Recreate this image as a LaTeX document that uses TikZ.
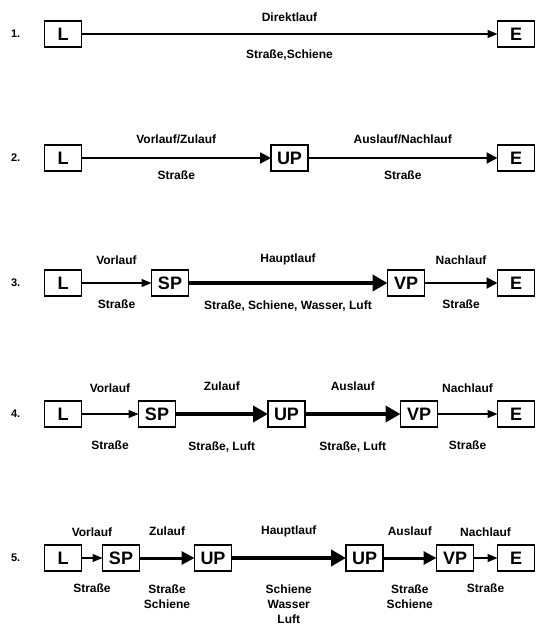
\documentclass[tikz,border=0pt]{standalone}
\usepackage{fontspec}
\setmainfont{Liberation Sans}
\usepackage{tikz}
\usetikzlibrary{arrows.meta, positioning}

\begin{document}
\begin{tikzpicture}[x=1pt, y=-1pt,
  box/.style={rectangle, draw=black, line width=1.3pt, fill=white,
    minimum width=37pt, minimum height=26pt, inner sep=0pt, outer sep=0pt,
    font=\fontsize{18}{20}\selectfont\bfseries},
  num/.style={inner sep=0pt, font=\fontsize{11}{13}\selectfont\bfseries},
  phase/.style={inner sep=0pt, text depth=0pt,
    font=\fontsize{12}{15}\selectfont\bfseries},
  carrier/.style={inner sep=0pt, align=center,
    font=\fontsize{12}{15}\selectfont\bfseries},
  arrA/.style={-{Triangle[length=10pt, width=8pt]}, line width=1.2pt},
  arrB/.style={-{Triangle[length=11pt, width=11pt]}, line width=2pt},
  arrC/.style={-{Triangle[length=13pt, width=13pt]}, line width=3pt},
  arrD/.style={-{Triangle[length=15pt, width=16pt]}, line width=4.5pt}
]
\useasboundingbox (0,0) rectangle (545,628);

\node[box] (l1) at (63,34) {L};
\node[box, right=416pt of l1] (e1) {E};
\node[num, left=24pt of l1] (n1) {1.};
\draw[arrA] (l1) -- node[phase, above=11.8pt] (p11) {Direktlauf}
  node[carrier, below=14.8pt] (c11) {Straße,Schiene} (e1);

\node[box, below=98pt of l1] (l2) {L};
\node[box, right=189.5pt of l2] (up2) {UP};
\node[box, right=189.5pt of up2] (e2) {E};
\node[num, left=24pt of l2] (n2) {2.};
\draw[arrB] (l2) -- node[phase, above=13.8pt] (p21) {Vorlauf/Zulauf}
  node[carrier, below=11.8pt] (c21) {Straße} (up2);
\draw[arrB] (up2) -- node[phase, above=13.8pt] (p22) {Auslauf/Nachlauf}
  node[carrier, below=11.8pt] (c22) {Straße} (e2);

\node[box, below=99pt of l2] (l3) {L};
\node[box, right=70pt of l3] (sp3) {SP};
\node[box, right=199pt of sp3] (vp3) {VP};
\node[box, right=73pt of vp3] (e3) {E};
\node[num, left=24pt of l3] (n3) {3.};
\draw[arrA] (l3) -- node[phase, above=17.8pt] (p31) {Vorlauf}
  node[carrier, below=15.8pt] (c31) {Straße} (sp3);
\draw[arrD] (sp3) -- node[phase, above=17.8pt] (p32) {Hauptlauf}
  node[carrier, below=15.8pt] (c32) {Straße, Schiene, Wasser, Luft} (vp3);
\draw[arrB] (vp3) -- node[phase, above=17.8pt] (p33) {Nachlauf}
  node[carrier, below=15.8pt] (c33) {Straße} (e3);

\node[box, below=105pt of l3] (l4) {L};
\node[box, right=57pt of l4] (sp4) {SP};
\node[box, right=92.5pt of sp4] (up4) {UP};
\node[box, right=95.5pt of up4] (vp4) {VP};
\node[box, right=60pt of vp4] (e4) {E};
\node[num, left=24pt of l4] (n4) {4.};
\draw[arrA] (l4) -- node[phase, above=20.8pt] (p41) {Vorlauf}
  node[carrier, below=25.8pt] (c41) {Straße} (sp4);
\draw[arrD] (sp4) -- node[phase, above=20.8pt] (p42) {Zulauf}
  node[carrier, below=25.8pt] (c42) {Straße, Luft} (up4);
\draw[arrD] (up4) -- node[phase, above=20.8pt] (p43) {Auslauf}
  node[carrier, below=25.8pt] (c43) {Straße, Luft} (vp4);
\draw[arrA] (vp4) -- node[phase, above=20.8pt] (p44) {Nachlauf}
  node[carrier, below=25.8pt] (c44) {Straße} (e4);

\node[box, below=118pt of l4] (l5) {L};
\node[box, right=21pt of l5] (sp5) {SP};
\node[box, right=55pt of sp5] (up5) {UP};
\node[box, right=114.5pt of up5] (uq5) {UP};
\node[box, right=53.5pt of uq5] (vp5) {VP};
\node[box, right=24pt of vp5] (e5) {E};
\node[num, left=24pt of l5] (n5) {5.};
\draw[arrA] (l5) -- node[phase, above=20.8pt] (p51) {Vorlauf}
  node[carrier, below=25pt] (c51) {Straße} (sp5);
\draw[arrC] (sp5) -- node[phase, above=20.8pt] (p52) {Zulauf}
  node[carrier, below=25pt] (c52) {Straße\\Schiene} (up5);
\draw[arrD] (up5) -- node[phase, above=20.8pt] (p53) {Hauptlauf}
  node[carrier, below=25pt] (c53) {Schiene\\Wasser\\Luft} (uq5);
\draw[arrC] (uq5) -- node[phase, above=20.8pt] (p54) {Auslauf}
  node[carrier, below=25pt] (c54) {Straße\\Schiene} (vp5);
\draw[arrA] (vp5) -- node[phase, above=20.8pt] (p55) {Nachlauf}
  node[carrier, below=25pt] (c55) {Straße} (e5);

\end{tikzpicture}
\end{document}
